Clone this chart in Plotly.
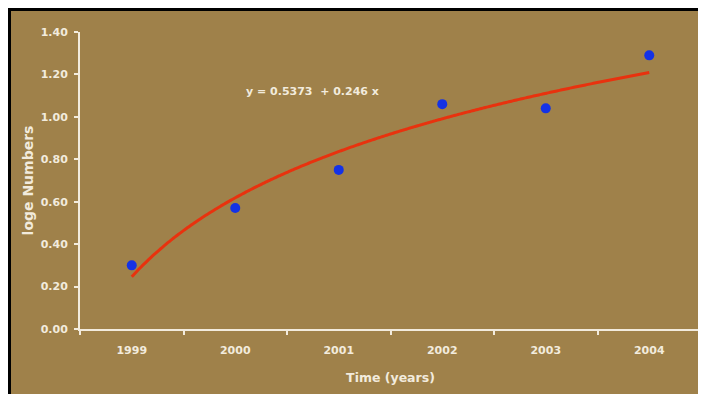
import numpy as np
import plotly.graph_objects as go

years = ["1999", "2000", "2001", "2002", "2003", "2004"]
period = [1, 2, 3, 4, 5, 6]
loge_numbers = [0.30, 0.57, 0.75, 1.06, 1.04, 1.29]
y_ticks = [0.0, 0.2, 0.4, 0.6, 0.8, 1.0, 1.2, 1.4]
y_tick_text = ["0.00", "0.20", "0.40", "0.60", "0.80", "1.00", "1.20", "1.40"]
fit_intercept = 0.246
fit_slope = 0.5373
equation_text = "y = 0.5373 \u00a0+ 0.246 x"

BG = "#9F814A"
FG = "#F2EBDD"
FONT = "DejaVu Sans, Arial, sans-serif"

xs = np.linspace(1, 6, 200)
ys = fit_intercept + fit_slope * np.log(xs)

fig = go.Figure()
fig.add_trace(go.Scatter(x=xs, y=ys, mode="lines",
                         line=dict(color="#E8320E", width=3, shape="spline"),
                         hoverinfo="skip"))
fig.add_trace(go.Scatter(x=period, y=loge_numbers, mode="markers",
                         marker=dict(color="#1432E6", size=10)))
# invisible trace to activate secondary x axis (boundary tick marks)
fig.add_trace(go.Scatter(x=[0.5, 6.5], y=[0, 0], xaxis="x2", mode="lines",
                         line=dict(width=0), hoverinfo="skip"))

fig.update_layout(
    width=706, height=394,
    margin=dict(l=72, r=13, t=24, b=73),
    paper_bgcolor=BG, plot_bgcolor=BG,
    showlegend=False,
    font=dict(family=FONT, color=FG, size=11),
    xaxis=dict(range=[0.5, 6.5], tickvals=period, ticktext=years,
               showgrid=False, zeroline=False, showline=False, ticks="",
               ticklabelstandoff=13,
               tickfont=dict(family=FONT, size=11, color=FG, weight="bold"),
               title=dict(text="Time (years)", standoff=17,
                          font=dict(family=FONT, size=12.5, color=FG, weight="bold"))),
    xaxis2=dict(range=[0.5, 6.5], overlaying="x", side="bottom",
                tickvals=[0.5, 1.5, 2.5, 3.5, 4.5, 5.5, 6.5],
                showticklabels=False, ticks="outside", ticklen=4, tickwidth=2,
                tickcolor=FG, showline=True, linecolor=FG, linewidth=2,
                showgrid=False, zeroline=False),
    yaxis=dict(range=[0, 1.4], tickvals=y_ticks, ticktext=y_tick_text,
               showgrid=False, zeroline=False, showline=True, linecolor=FG,
               linewidth=2, ticks="outside", ticklen=4, tickwidth=2, tickcolor=FG,
               ticklabelstandoff=4,
               tickfont=dict(family=FONT, size=11, color=FG, weight="bold"),
               title=dict(text="loge Numbers", standoff=4,
                          font=dict(family=FONT, size=14, color=FG, weight="bold"))),
)

fig.add_annotation(x=2.75, y=1.12, xref="x", yref="y", text=equation_text,
                   showarrow=False,
                   font=dict(family=FONT, size=11, color=FG, weight="bold"))

# black frame (top and left edges)
W, H = 621.0, 297.0
def px(v):
    return (v - 72) / W
def py(v):
    return (321 - v) / H
fig.add_shape(type="rect", xref="paper", yref="paper", x0=px(0), x1=px(706),
              y0=py(3), y1=py(0), fillcolor="black", line_width=0, layer="above")
fig.add_shape(type="rect", xref="paper", yref="paper", x0=px(0), x1=px(3),
              y0=py(394), y1=py(0), fillcolor="black", line_width=0, layer="above")

fig.write_html("out.html")
